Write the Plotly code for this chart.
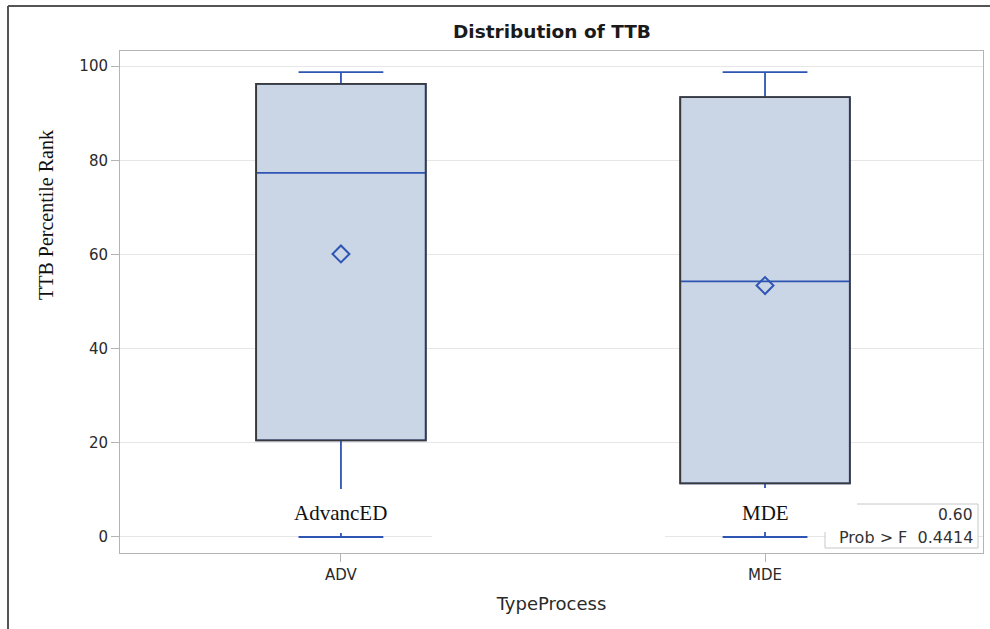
import plotly.graph_objects as go

# ---- data ----
categories = ["ADV", "MDE"]
q1 = [20.5, 11.4]
median = [77.3, 54.3]
q3 = [96.2, 93.4]
lower_whisker = [0.0, 0.0]
upper_whisker = [98.7, 98.7]
means = [60.1, 53.4]
group_labels = ["AdvancED", "MDE"]
f_value = "0.60"
p_value = "0.4414"
yticks = [0, 20, 40, 60, 80, 100]

# ---- styles ----
BLUE = "#2f55b4"
FILL = "#cad5e5"
OUTLINE = "#3a3a3a"
SANS = "DejaVu Sans, Liberation Sans, Arial, sans-serif"
SERIF = "Liberation Serif, Times New Roman, serif"
W, H = 990, 629
L, R, T, B = 120, 983, 51, 553  # plot area pixel bounds


def px(x):
    return (x - L) / (R - L)


def py(y):
    return (B - y) / (B - T)


fig = go.Figure()

fig.add_trace(go.Box(
    x=categories, q1=q1, median=median, q3=q3,
    lowerfence=lower_whisker, upperfence=upper_whisker,
    width=0.4, whiskerwidth=0.5, boxpoints=False,
    fillcolor=FILL, line=dict(color=BLUE, width=1.8),
    hoverinfo="skip", showlegend=False,
))

fig.add_trace(go.Scatter(
    x=categories, y=means, mode="markers",
    marker=dict(symbol="diamond-open", size=13, color=BLUE, line=dict(width=2, color=BLUE)),
    showlegend=False, hoverinfo="skip",
))

# box outline (dark) drawn on an overlaying axis so it sits above the box layer
fig.add_trace(go.Bar(
    x=categories, y=[b - a for a, b in zip(q1, q3)], base=q1, width=0.4,
    marker=dict(color="rgba(0,0,0,0)", line=dict(color=OUTLINE, width=1.8)),
    xaxis="x2", showlegend=False, hoverinfo="skip",
))

xr = [-0.521, 1.514]
yr = [-3.4, 103.2]

fig.update_layout(
    width=W, height=H,
    margin=dict(l=L, r=W - R, t=T, b=H - B, pad=0),
    paper_bgcolor="white", plot_bgcolor="white",
    font=dict(family=SANS, color="#333333"),
    xaxis=dict(
        type="category", categoryarray=categories, range=xr,
        showgrid=False, showline=True, mirror=True, linecolor="#b4b4b4", linewidth=1,
        ticks="outside", ticklen=8, tickcolor="#b4b4b4",
        tickfont=dict(size=15, color="#2a2a2a", family=SANS),
        title=dict(text="TypeProcess", font=dict(size=18, color="#2a2a2a", family=SANS), standoff=14),
        zeroline=False,
    ),
    xaxis2=dict(
        type="category", categoryarray=categories, range=xr,
        overlaying="x", visible=False,
    ),
    yaxis=dict(
        range=yr, tickvals=yticks,
        showgrid=True, gridcolor="#e6e6e6", gridwidth=1,
        showline=True, mirror=True, linecolor="#b4b4b4", linewidth=1,
        ticks="outside", ticklen=8, tickcolor="#b4b4b4",
        tickfont=dict(size=15, color="#2a2a2a", family=SANS),
        zeroline=False,
    ),
)

shapes = [
    # outer frame (top and left border)
    dict(type="line", xref="paper", yref="paper", x0=px(8), x1=px(990), y0=py(6), y1=py(6),
         line=dict(color="#555555", width=2)),
    dict(type="line", xref="paper", yref="paper", x0=px(8), x1=px(8), y0=py(6), y1=py(629),
         line=dict(color="#555555", width=2)),
    # inset statistics box
    dict(type="rect", xref="paper", yref="paper", x0=px(825), x1=px(978), y0=py(548), y1=py(504),
         fillcolor="white", line=dict(color="#c8c8c8", width=1), layer="above"),
    # white patches under the group labels
    dict(type="rect", xref="paper", yref="paper", x0=px(255), x1=px(432), y0=py(533), y1=py(489),
         fillcolor="white", line=dict(width=0), layer="above"),
    dict(type="rect", xref="paper", yref="paper", x0=px(432), x1=px(665), y0=py(540), y1=py(489),
         fillcolor="white", line=dict(width=0), layer="above"),
    dict(type="rect", xref="paper", yref="paper", x0=px(665), x1=px(857), y0=py(532), y1=py(488),
         fillcolor="white", line=dict(width=0), layer="above"),
]
fig.update_layout(shapes=shapes)

annotations = [
    dict(text="<b>Distribution of TTB</b>", xref="paper", yref="paper", x=0.5, y=py(31),
         showarrow=False, font=dict(size=18.5, color="#1a1a1a", family=SANS),
         xanchor="center", yanchor="middle"),
    dict(text="TTB Percentile Rank", xref="paper", yref="paper", x=px(46), y=py(215),
         textangle=-90, showarrow=False,
         font=dict(size=20, color="#111111", family=SERIF),
         xanchor="center", yanchor="middle"),
    dict(text=f_value, xref="paper", yref="paper", x=px(975), y=py(515), showarrow=False,
         xanchor="right", yanchor="middle", font=dict(size=15.5, color="#333333", family=SANS)),
    dict(text="Prob > F  " + p_value, xref="paper", yref="paper", x=px(975), y=py(537),
         showarrow=False, xanchor="right", yanchor="middle",
         font=dict(size=16, color="#333333", family=SANS)),
]
for cat, lab in zip(categories, group_labels):
    annotations.append(dict(
        text=lab, x=cat, xref="x", yref="paper", y=py(513), showarrow=False,
        xanchor="center", yanchor="middle",
        font=dict(size=21, color="#111111", family=SERIF),
    ))
fig.update_layout(annotations=annotations)

fig.write_html("out.html")
